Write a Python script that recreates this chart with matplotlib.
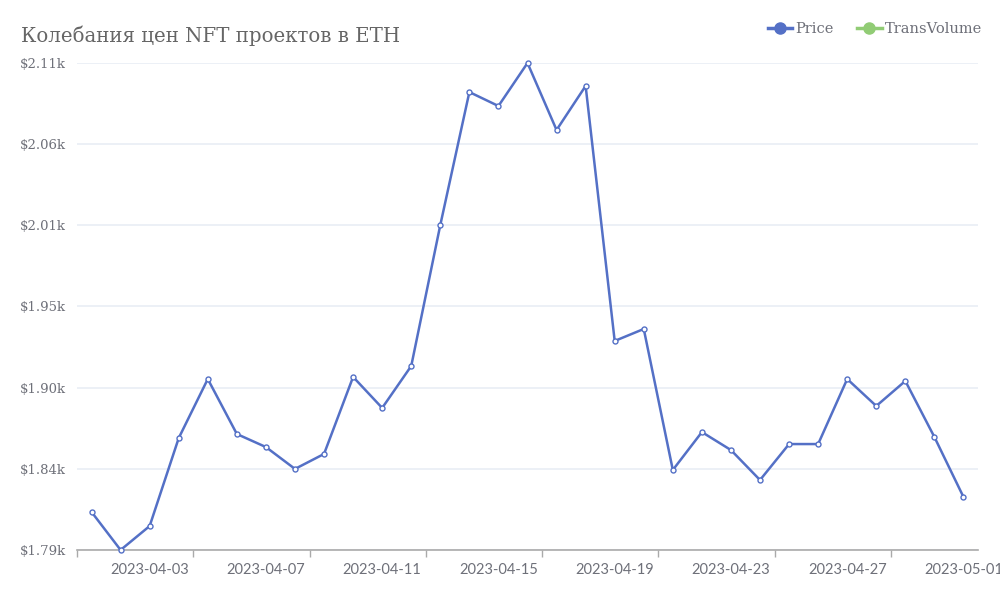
import matplotlib
matplotlib.use("Agg")
import matplotlib.pyplot as plt
from matplotlib.lines import Line2D
import pandas as pd

dates = pd.date_range("2023-04-01", "2023-05-01", freq="D").strftime("%Y-%m-%d").tolist()
price = [1814.4, 1789.0, 1805.0, 1863.7, 1903.1, 1866.4, 1857.7, 1843.1, 1853.1, 1904.5,
         1883.8, 1911.8, 2005.9, 2094.6, 2085.3, 2114.0, 2069.3, 2098.7, 1928.5, 1936.5,
         1842.4, 1867.7, 1855.7, 1835.7, 1859.7, 1859.7, 1903.1, 1885.1, 1901.8, 1864.4,
         1824.4]
series_names = ["Price", "TransVolume"]
series_colors = ["#5470c6", "#91cc75"]
title = "Колебания цен NFT проектов в ETH"

SERIF = ["DejaVu Serif"]
SANS = ["Lato", "DejaVu Sans"]
TXT = "#6e7079"

fig = plt.figure(figsize=(10, 6), dpi=100)
ax = fig.add_axes([0.077, 1 - 550 / 600, 0.901, 487 / 600])

n = len(price)
xs = list(range(n))
ax.plot(xs, price, color=series_colors[0], lw=1.8, marker="o", ms=3.6,
        mfc="white", mec=series_colors[0], mew=1.0, zorder=3, clip_on=False)

ymin, ymax = min(price), max(price)
ax.set_ylim(ymin, ymax)
ax.set_xlim(-0.5, n - 0.5)
step = (ymax - ymin) / 6
yt = [ymin + i * step for i in range(7)]
ax.set_yticks(yt)
ax.set_yticklabels([f"${v/1000:.2f}k" for v in yt], fontfamily=SERIF, fontsize=9.5, color=TXT)
ax.yaxis.grid(True, color="#e9edf5", lw=1.2)
ax.set_axisbelow(True)

# x axis: major ticks at category boundaries, labels at category centres
ax.set_xticks([i - 0.5 for i in range(0, n, 4)])
ax.set_xticklabels([])
ax.set_xticks(list(range(2, n, 4)), minor=True)
ax.set_xticklabels([dates[i] for i in range(2, n, 4)], minor=True,
                   fontfamily=SANS, fontsize=10.5, color=TXT)
ax.tick_params(axis="x", which="major", length=5, color="#aaaaaa", width=1)
ax.tick_params(axis="x", which="minor", length=0, pad=9)
ax.tick_params(axis="y", length=0, pad=8)

for s in ["top", "right", "left"]:
    ax.spines[s].set_visible(False)
ax.spines["bottom"].set_color("#aaaaaa")
ax.spines["bottom"].set_linewidth(1.2)

fig.text(0.021, 1 - 36 / 600, title, fontfamily=SERIF, fontsize=14.2, color="#666666",
         va="center", ha="left")

handles = [Line2D([0], [0], color=c, lw=2.5, marker="o", ms=8, mfc=c, mec=c)
           for c in series_colors]
leg = fig.legend(handles, series_names, loc="center right", bbox_to_anchor=(0.995, 1 - 29 / 600),
                 ncol=2, frameon=False, handlelength=1.7, handletextpad=0.2, columnspacing=1.6,
                 prop={"family": SERIF, "size": 10.5})
for t in leg.get_texts():
    t.set_color(TXT)

fig.savefig("out.png", dpi=100)
